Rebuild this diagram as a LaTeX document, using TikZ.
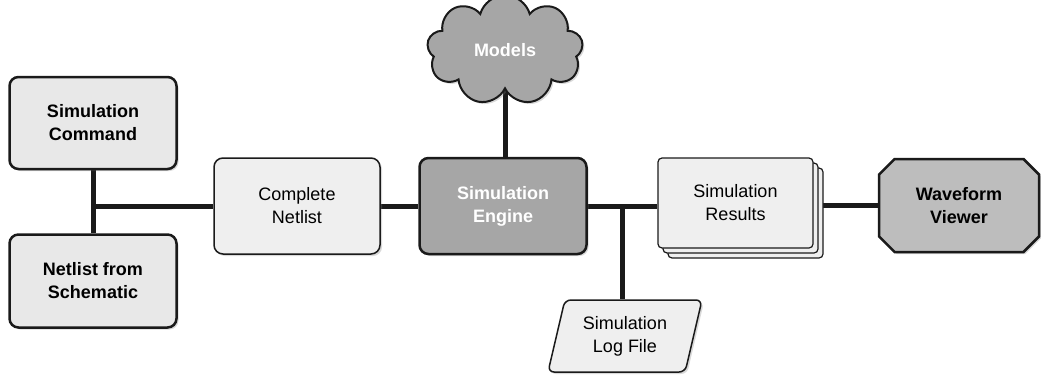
\documentclass[tikz,border=0pt]{standalone}
\usepackage{fontspec}
\setmainfont{Liberation Sans}
\usepackage{tikz}
\usetikzlibrary{positioning,calc,shapes,shadows,backgrounds}

\definecolor{edgegray}{HTML}{1A1A1A}
\definecolor{palegray}{HTML}{EFEFEF}
\definecolor{cmdgray}{HTML}{E8E8E8}
\definecolor{enginegray}{HTML}{A6A6A6}
\definecolor{viewgray}{HTML}{BDBDBD}

\tikzset{
  boxtext/.style={font=\fontsize{18}{23}\selectfont,align=center,inner sep=0pt},
  heavybox/.style={boxtext,draw=edgegray,line width=2.5pt,rounded corners=9pt,
    font=\fontsize{18}{23}\selectfont\bfseries,
    drop shadow={shadow xshift=2pt,shadow yshift=-2pt,opacity=0.3}},
  lightbox/.style={boxtext,draw=edgegray,line width=1.5pt,fill=palegray,rounded corners=9pt,
    drop shadow={shadow xshift=2pt,shadow yshift=-2pt,opacity=0.3}},
  wire/.style={line width=5pt,draw=edgegray}
}

\begin{document}
\begin{tikzpicture}[x=1pt,y=-1pt]
  \useasboundingbox (0,0) rectangle (1041,375);
  % Input boxes on the left
  \path (93,123) node[heavybox,fill=cmdgray,minimum width=167pt,minimum height=92pt] (cmd) {Simulation\\Command};
  \path (93,281) node[heavybox,fill=cmdgray,minimum width=167pt,minimum height=93pt] (netsch) {Netlist from\\Schematic};
  \path (297,206) node[lightbox,minimum width=166pt,minimum height=96pt] (netlist) {Complete\\Netlist};
  % Engine and its model library
  \path (503,206) node[heavybox,fill=enginegray,text=white,minimum width=167pt,minimum height=96pt] (engine) {Simulation\\Engine};
  \path (505,50) node[cloud,cloud puffs=9,aspect=1.6,draw=edgegray,line width=2pt,fill=enginegray,
    text=white,boxtext,font=\fontsize{18}{23}\selectfont\bfseries,minimum width=156pt,minimum height=110pt,
    drop shadow={shadow xshift=2pt,shadow yshift=-2pt,opacity=0.3}] (models) {Models};
  % Outputs
  \path (735.5,203) node[boxtext,draw=edgegray,line width=1.2pt,fill=palegray,rounded corners=4pt,
    minimum width=155pt,minimum height=90pt,
    double copy shadow={shadow xshift=5pt,shadow yshift=-5pt}] (results) {Simulation\\Results};
  \path (959,205.5) node[chamfered rectangle,chamfered rectangle xsep=12pt,draw=edgegray,line width=2.5pt,
    fill=viewgray,boxtext,font=\fontsize{18}{23}\selectfont\bfseries,minimum width=160pt,minimum height=93pt,
    drop shadow={shadow xshift=2pt,shadow yshift=-2pt,opacity=0.3}] (viewer) {Waveform\\Viewer};
  \path (625,336) node[trapezium,trapezium left angle=67,trapezium right angle=113,trapezium stretches body,
    lightbox,rounded corners=6pt,minimum width=154pt,minimum height=72pt] (logfile) {Simulation\\Log File};
  % Connections
  \begin{scope}[on background layer]
    \draw[wire] (cmd.south) -- (netsch.north);
    \coordinate (j1) at (cmd.south |- netlist.west);
    \draw[wire] (j1) -- (netlist.west);
    \draw[wire] (netlist) -- (engine);
    \draw[wire] (models.south) -- (models.south |- engine.north);
    \draw[wire] (engine.east) -- (engine.east -| results.west);
    \coordinate (j2) at (622,206);
    \draw[wire] (j2) -- (j2 |- logfile.north);
    \draw[wire] (viewer.west) -- (viewer.west -| results.center);
  \end{scope}
\end{tikzpicture}
\end{document}
